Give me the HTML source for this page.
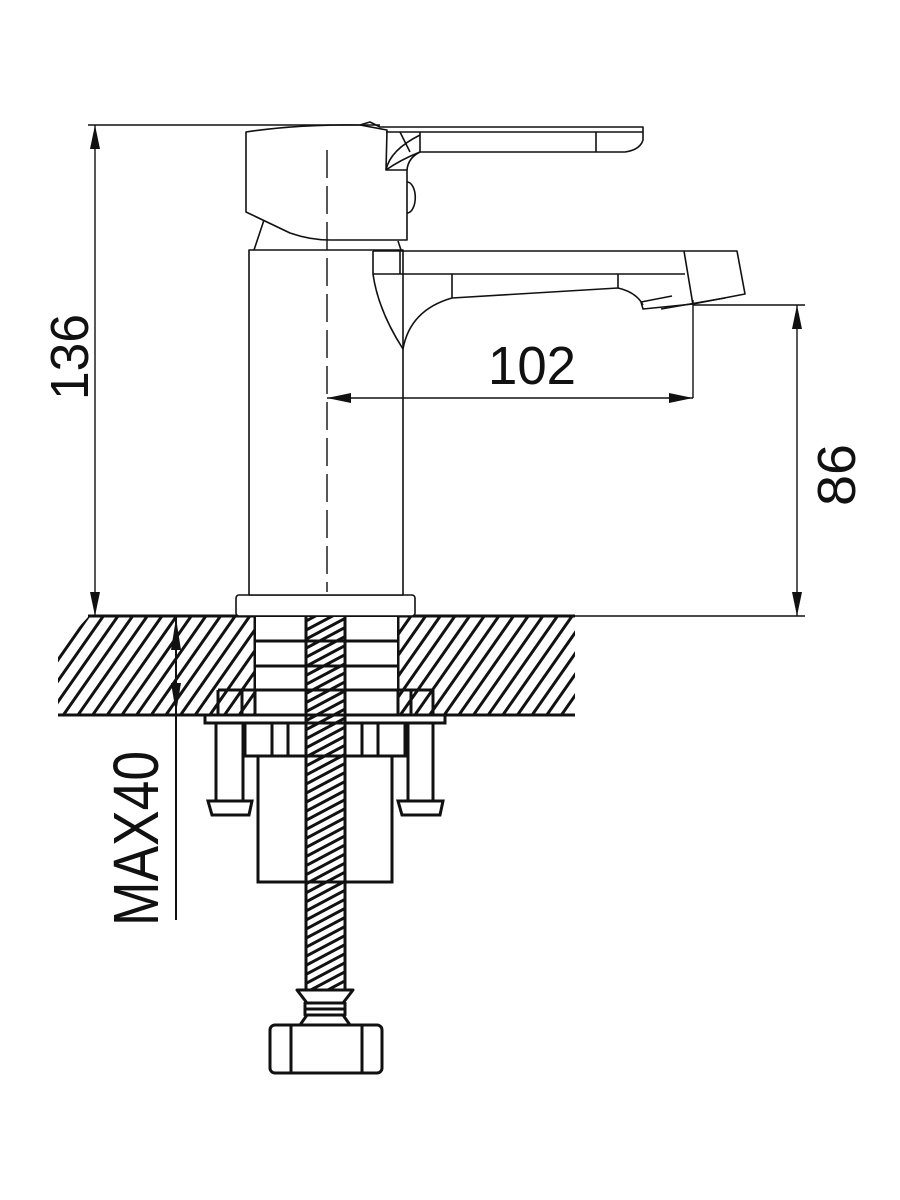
<!DOCTYPE html>
<html><head><meta charset="utf-8"><style>
html,body{margin:0;padding:0;background:#fff;width:900px;height:1200px;overflow:hidden}
text{font-family:"Liberation Sans",sans-serif;fill:#111}
</style></head><body>
<svg width="900" height="1200" viewBox="0 0 900 1200" xmlns="http://www.w3.org/2000/svg">
<defs>
<pattern id="h" patternUnits="userSpaceOnUse" width="12" height="14" patternTransform="rotate(35)">
<line x1="6" y1="0" x2="6" y2="14" stroke="#111" stroke-width="3"/>
</pattern>
<pattern id="t" patternUnits="userSpaceOnUse" width="8" height="8" patternTransform="rotate(62)">
<line x1="4" y1="0" x2="4" y2="8" stroke="#111" stroke-width="3"/>
</pattern>
<marker id="a" markerWidth="24" markerHeight="10" refX="24" refY="5" orient="auto-start-reverse" markerUnits="userSpaceOnUse" viewBox="0 0 24 10">
<path d="M0,0 L24,5 L0,10 Z" fill="#111"/>
</marker>
</defs>

<!-- counter hatch -->
<g>
<rect x="58" y="617" width="197" height="98" fill="url(#h)"/>
<rect x="398" y="617" width="177" height="98" fill="url(#h)"/>
<polygon points="58,617 88,617 58,650" fill="#fff"/>
<line x1="88" y1="616" x2="575" y2="616" stroke="#111" stroke-width="3"/>
<line x1="58" y1="715" x2="575" y2="715" stroke="#111" stroke-width="3"/>
<line x1="255" y1="616" x2="255" y2="690" stroke="#111" stroke-width="3"/>
<line x1="398" y1="616" x2="398" y2="690" stroke="#111" stroke-width="3"/>
</g>
<!-- washers in hole -->
<rect x="256" y="617" width="141" height="73" fill="#fff"/>
<g stroke="#111" stroke-width="3" fill="none">
<line x1="255" y1="641" x2="398" y2="641"/>
<line x1="255" y1="666" x2="398" y2="666"/>
<line x1="218" y1="690" x2="433" y2="690"/>
<line x1="255" y1="690" x2="255" y2="715"/>
<line x1="398" y1="690" x2="398" y2="715"/>
<line x1="218" y1="690" x2="218" y2="715"/>
<line x1="433" y1="690" x2="433" y2="715"/>
<line x1="242" y1="690" x2="242" y2="715"/>
<line x1="411" y1="690" x2="411" y2="715"/>
<rect x="205" y="715" width="240" height="8" fill="#fff"/>
<rect x="245" y="723" width="160" height="33" fill="#fff"/>
<line x1="272" y1="723" x2="272" y2="756"/><line x1="288" y1="723" x2="288" y2="756"/>
<line x1="362" y1="723" x2="362" y2="756"/><line x1="378" y1="723" x2="378" y2="756"/>
<rect x="216" y="723" width="27" height="78" fill="#fff"/>
<rect x="408" y="723" width="25" height="78" fill="#fff"/>
<path d="M208,801 L252,801 L249,815 L212,815 Z" fill="#fff"/>
<path d="M398,801 L443,801 L440,815 L402,815 Z" fill="#fff"/>
<rect x="258" y="756" width="134" height="126" fill="#fff"/>
</g>
<!-- rod -->
<rect x="306" y="616" width="39" height="374" fill="url(#t)"/>
<line x1="306" y1="616" x2="306" y2="990" stroke="#111" stroke-width="3"/>
<line x1="345" y1="616" x2="345" y2="990" stroke="#111" stroke-width="3"/>
<!-- bottom nut -->
<g stroke="#111" stroke-width="3" fill="#fff" stroke-linejoin="round">
<path d="M297,990 L353,990 L343,1003 L307,1003 Z"/>
<rect x="305" y="1003" width="40" height="12"/>
<line x1="305" y1="1009" x2="345" y2="1009"/>
<path d="M307,1015 L343,1015 L350,1025 L300,1025 Z"/>
<rect x="270" y="1025" width="112" height="48" rx="5"/>
<line x1="291" y1="1025" x2="291" y2="1073"/>
<line x1="362" y1="1025" x2="362" y2="1073"/>
</g>

<!-- faucet -->
<g stroke="#111" stroke-width="1.6" fill="none" stroke-linejoin="round">
<rect x="236" y="595" width="179" height="21" rx="3" fill="#fff"/>
<rect x="249" y="250" width="154" height="345" fill="#fff"/>
<path d="M254,250 L264,220 M398,241 L401,250"/>
<path d="M246,132 Q300,124 360,125 L387,130 L386,170 L407,170 L407,240 L330,240 Q310,240 290,233 L246,212 Z" fill="#fff"/>
<path d="M360,125 L370,122 L380,127 L643,127 L643,140 Q640,150 625,152 L420,152 Q408,158 407,170"/>
<path d="M386,132 L643,132 M420,132 L420,152 M596,132 L596,152"/>
<path d="M386,170 Q390,150 420,135 M386,170 Q400,160 420,152 M400,132 L410,152"/>
<path d="M407,182 A8,15 0 0 1 407,213"/>
<path d="M373,251 L737,251 L745,294 L693,304 L643,309 L641,302 L672,296"/>
<path d="M400,274 L685,274 M373,251 L373,274 L400,274 M400,251 L400,274"/>
<path d="M373,274 Q378,310 403,349 Q410,310 452,298 L618,288 Q636,292 643,305"/>
<path d="M452,274 L452,298 M618,274 L618,288"/>
<path d="M684,251 L693,305"/>
<path d="M661,309 L725,298"/>
</g>
<line x1="327" y1="150" x2="327" y2="592" stroke="#111" stroke-width="1.4" stroke-dasharray="28,8"/>

<!-- dimensions -->
<g stroke="#111" stroke-width="1.4" fill="none">
<line x1="88" y1="125" x2="380" y2="125"/>
<line x1="95" y1="125" x2="95" y2="616" marker-start="url(#a)" marker-end="url(#a)"/>
<line x1="327" y1="398" x2="693" y2="398" marker-start="url(#a)" marker-end="url(#a)"/>
<line x1="693" y1="300" x2="693" y2="398"/>
<line x1="693" y1="305" x2="805" y2="305"/>
<line x1="575" y1="616" x2="805" y2="616"/>
<line x1="797" y1="305" x2="797" y2="616" marker-start="url(#a)" marker-end="url(#a)"/>
<line x1="176" y1="616" x2="176" y2="920" stroke-width="2"/>
</g>
<path d="M171,650 L176,618 L181,650 Z" fill="#111"/>
<path d="M171,683 L176,713 L181,683 Z" fill="#111"/>

<text x="576" y="384" font-size="54" text-anchor="end" textLength="88" lengthAdjust="spacingAndGlyphs">102</text>
<text transform="translate(88,400) rotate(-90)" font-size="54" textLength="86" lengthAdjust="spacingAndGlyphs">136</text>
<text transform="translate(855,506) rotate(-90)" font-size="54" textLength="62" lengthAdjust="spacingAndGlyphs">86</text>
<text transform="translate(158,926) rotate(-90)" font-size="64" textLength="175" lengthAdjust="spacingAndGlyphs">MAX40</text>
</svg>
</body></html>
